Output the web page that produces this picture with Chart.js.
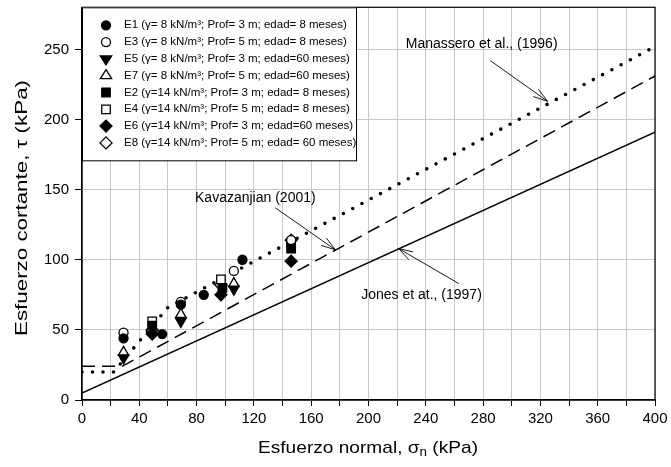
<!DOCTYPE html>
<html>
<head>
<meta charset="utf-8">
<script src="https://cdn.jsdelivr.net/npm/chart.js@4"></script>
<style>
  html, body { margin: 0; padding: 0; background: #fff; }
  #wrap { width: 671px; height: 467px; }
</style>
</head>
<body>
<div id="wrap"><canvas id="chartCanvas" width="671" height="467"></canvas></div>
<script>
// ensayos de corte directo (sigma, tau en kPa)
const sigmaE1 = [29, 56, 69, 85, 112];
const tauE1   = [44, 47, 68, 75, 100];
const sigmaE3 = [29, 69, 106, 146];
const tauE3   = [48, 70, 92, 114];
const sigmaE5 = [29, 69, 106];
const tauE5   = [30, 56, 79];
const sigmaE7 = [29, 69, 106];
const tauE7   = [34, 61, 83];
const sigmaE2 = [49, 98, 146];
const tauE2   = [53, 80, 108];
const sigmaE4 = [49, 97, 146];
const tauE4   = [56, 86, 112];
const sigmaE6 = [49, 97, 146];
const tauE6   = [47, 75, 99];
const sigmaE8 = [49, 97, 146];
const tauE8   = [50, 82, 114];

// envolventes de la literatura
const sigmaManassero = [0, 22, 60, 400];
const tauManassero   = [20, 20, 66, 252];
const sigmaKavazanjian = [0, 28, 400];
const tauKavazanjian   = [24, 24, 231];
const sigmaJones = [0, 400];
const tauJones   = [5, 191];

const xTicks = [0, 40, 80, 120, 160, 200, 240, 280, 320, 360, 400];
const yTicks = [0, 50, 100, 150, 200, 250];

const legendLabels = [
  'E1 (\u03b3= 8 kN/m\u00b3; Prof= 3 m; edad= 8 meses)',
  'E3 (\u03b3= 8 kN/m\u00b3; Prof= 5 m; edad= 8 meses)',
  'E5 (\u03b3= 8 kN/m\u00b3; Prof= 3 m; edad=60 meses)',
  'E7 (\u03b3= 8 kN/m\u00b3; Prof= 5 m; edad=60 meses)',
  'E2 (\u03b3=14 kN/m\u00b3; Prof= 3 m; edad= 8 meses)',
  'E4 (\u03b3=14 kN/m\u00b3; Prof= 5 m; edad= 8 meses)',
  'E6 (\u03b3=14 kN/m\u00b3; Prof= 3 m; edad=60 meses)',
  'E8 (\u03b3=14 kN/m\u00b3; Prof= 5 m; edad= 60 meses)'
];

// etiquetas con flecha: texto en (x,y), flecha de (x0,y0) a (x1,y1)
const notas = [
  { text: 'Manassero et al., (1996)', x: 279, y: 254, x0: 285, y0: 242, x1: 325, y1: 213 },
  { text: 'Kavazanjian (2001)', x: 121, y: 144, x0: 135, y0: 137, x1: 177, y1: 107 },
  { text: 'Jones et at., (1997)', x: 237, y: 75, x0: 263, y0: 83, x1: 221, y1: 108 }
];

const FONT = '"Liberation Sans", Arial, sans-serif';

function pts(xs, ys) {
  return xs.map((x, i) => ({ x: x, y: ys[i] }));
}

function serie(label, xs, ys, style, filled, radius, rot) {
  return {
    label: label,
    data: pts(xs, ys),
    showLine: false,
    pointStyle: style,
    pointRadius: radius,
    pointHoverRadius: radius,
    pointRotation: rot || 0,
    pointBackgroundColor: filled ? '#000' : '#fff',
    pointBorderColor: '#000',
    pointBorderWidth: 1.3
  };
}

function linea(label, xs, ys, dash, width, cap) {
  return {
    label: label,
    data: pts(xs, ys),
    showLine: true,
    borderColor: '#000',
    borderWidth: width,
    borderDash: dash,
    borderCapStyle: cap,
    pointRadius: 0,
    fill: false,
    tension: 0
  };
}

const datasets = [
  serie(legendLabels[0], sigmaE1, tauE1, 'circle', true, 4.5),
  serie(legendLabels[1], sigmaE3, tauE3, 'circle', false, 4.5),
  serie(legendLabels[2], sigmaE5, tauE5, 'triangle', true, 6, 180),
  serie(legendLabels[3], sigmaE7, tauE7, 'triangle', false, 6),
  serie(legendLabels[4], sigmaE2, tauE2, 'rect', true, 6),
  serie(legendLabels[5], sigmaE4, tauE4, 'rect', false, 6),
  serie(legendLabels[6], sigmaE6, tauE6, 'rectRot', true, 6),
  serie(legendLabels[7], sigmaE8, tauE8, 'rectRot', false, 6),
  linea('Manassero', sigmaManassero, tauManassero, [0, 10.5], 3.6, 'round'),
  linea('Kavazanjian', sigmaKavazanjian, tauKavazanjian, [13, 7], 1.5, 'butt'),
  linea('Jones', sigmaJones, tauJones, [], 1.5, 'butt')
];

// simbolo de la leyenda
function simbolo(ctx, style, filled, x, y, r, rot) {
  ctx.save();
  ctx.translate(x, y);
  if (rot) ctx.rotate(rot * Math.PI / 180);
  ctx.beginPath();
  if (style === 'circle') {
    ctx.arc(0, 0, r, 0, Math.PI * 2);
  } else if (style === 'triangle') {
    const h = r * 1.5;
    ctx.moveTo(0, -r);
    ctx.lineTo(r * 0.95, h - r);
    ctx.lineTo(-r * 0.95, h - r);
    ctx.closePath();
  } else if (style === 'rect') {
    const s = r * Math.SQRT1_2;
    ctx.rect(-s, -s, 2 * s, 2 * s);
  } else {
    ctx.moveTo(0, -r);
    ctx.lineTo(r, 0);
    ctx.lineTo(0, r);
    ctx.lineTo(-r, 0);
    ctx.closePath();
  }
  ctx.fillStyle = filled ? '#000' : '#fff';
  ctx.fill();
  ctx.lineWidth = 1.3;
  ctx.strokeStyle = '#000';
  ctx.stroke();
  ctx.restore();
}

function textoEscalado(ctx, text, cx, cy, largo, size, vertical, sub) {
  ctx.save();
  ctx.font = size + 'px ' + FONT;
  ctx.fillStyle = '#000';
  ctx.textBaseline = 'middle';
  ctx.textAlign = 'left';
  let w = ctx.measureText(text).width;
  let subW = 0;
  if (sub) {
    ctx.font = (size * 0.7) + 'px ' + FONT;
    subW = ctx.measureText(sub.text).width;
    ctx.font = size + 'px ' + FONT;
    w += subW + ctx.measureText(sub.after).width;
  }
  const k = largo / w;
  ctx.translate(cx, cy);
  if (vertical) ctx.rotate(-Math.PI / 2);
  ctx.scale(k, 1);
  let x = -w / 2;
  ctx.fillText(text, x, 0);
  if (sub) {
    x += ctx.measureText(text).width;
    ctx.font = (size * 0.7) + 'px ' + FONT;
    ctx.fillText(sub.text, x, size * 0.3);
    x += subW;
    ctx.font = size + 'px ' + FONT;
    ctx.fillText(sub.after, x, 0);
  }
  ctx.restore();
}

const extras = {
  id: 'extras',
  afterDraw(chart) {
    const ctx = chart.ctx;
    const a = chart.chartArea;
    const xs = chart.scales.x, ys = chart.scales.y;

    // marco
    ctx.save();
    ctx.strokeStyle = '#000';
    ctx.lineWidth = 1.2;
    ctx.strokeRect(a.left, a.top, a.right - a.left, a.bottom - a.top);
    ctx.restore();

    // notas con flecha
    ctx.save();
    ctx.font = '14px ' + FONT;
    ctx.fillStyle = '#000';
    ctx.textAlign = 'center';
    ctx.textBaseline = 'middle';
    ctx.strokeStyle = '#000';
    ctx.lineWidth = 0.9;
    notas.forEach(n => {
      ctx.fillText(n.text, xs.getPixelForValue(n.x), ys.getPixelForValue(n.y));
      const x0 = xs.getPixelForValue(n.x0), y0 = ys.getPixelForValue(n.y0);
      const x1 = xs.getPixelForValue(n.x1), y1 = ys.getPixelForValue(n.y1);
      const ang = Math.atan2(y1 - y0, x1 - x0);
      ctx.beginPath();
      ctx.moveTo(x0, y0);
      ctx.lineTo(x1, y1);
      [0.3, -0.3].forEach(d => {
        ctx.moveTo(x1, y1);
        ctx.lineTo(x1 - 15 * Math.cos(ang + d), y1 - 15 * Math.sin(ang + d));
      });
      ctx.stroke();
    });
    ctx.restore();

    // leyenda
    const lx = a.left, ly = a.top, lw = 274, lh = 153;
    ctx.save();
    ctx.fillStyle = '#fff';
    ctx.fillRect(lx, ly, lw, lh);
    ctx.strokeStyle = '#000';
    ctx.lineWidth = 1;
    ctx.strokeRect(lx + 0.5, ly + 0.5, lw, lh);
    ctx.font = '11.5px ' + FONT;
    ctx.fillStyle = '#000';
    ctx.textBaseline = 'middle';
    chart.data.datasets.slice(0, 8).forEach((ds, i) => {
      const y = ly + 18 + i * 16.8;
      const filled = ds.pointBackgroundColor === '#000';
      simbolo(ctx, ds.pointStyle, filled, lx + 24, y, ds.pointRadius, ds.pointRotation);
      ctx.fillStyle = '#000';
      ctx.fillText(ds.label, lx + 42, y);
    });
    ctx.restore();

    // titulos de los ejes
    textoEscalado(ctx, 'Esfuerzo normal, \u03c3', 368, 448, 220, 17, false, { text: 'n', after: ' (kPa)' });
    textoEscalado(ctx, 'Esfuerzo cortante, \u03c4 (kPa)', 22, 208, 256, 17, true);
  }
};

const opciones = {
  responsive: false,
  animation: false,
  layout: { padding: { top: 5, right: 16, left: 0, bottom: 0 } },
  plugins: {
    legend: { display: false },
    tooltip: { enabled: false }
  },
  scales: {
    x: {
      type: 'linear',
      min: 0,
      max: 400,
      afterFit: s => { s.height = 67; s.paddingLeft = 0; s.paddingRight = 0; },
      afterBuildTicks: s => { s.ticks = []; for (let v = 0; v <= 400; v += 20) s.ticks.push({ value: v }); },
      ticks: {
        autoSkip: false,
        maxRotation: 0,
        padding: 4,
        color: '#000',
        font: { family: FONT, size: 15 },
        callback: v => xTicks.includes(v) ? String(v) : ''
      },
      grid: { color: '#c8c8c8', lineWidth: 1, tickColor: '#000', tickLength: 6 },
      border: { color: '#000', width: 1.2 }
    },
    y: {
      type: 'linear',
      min: 0,
      max: 280,
      afterFit: s => { s.width = 82; s.paddingTop = 0; s.paddingBottom = 0; },
      afterBuildTicks: s => { s.ticks = yTicks.map(v => ({ value: v })); },
      ticks: {
        padding: 6,
        color: '#000',
        font: { family: FONT, size: 15 }
      },
      grid: { color: '#c8c8c8', lineWidth: 1, tickColor: '#000', tickLength: 7 },
      border: { color: '#000', width: 1.2 }
    }
  }
};

const ctx = document.getElementById('chartCanvas').getContext('2d');
const chart = new Chart(ctx, {
  type: 'scatter',
  data: { datasets: datasets },
  options: opciones,
  plugins: [extras]
});
</script>
</body>
</html>
